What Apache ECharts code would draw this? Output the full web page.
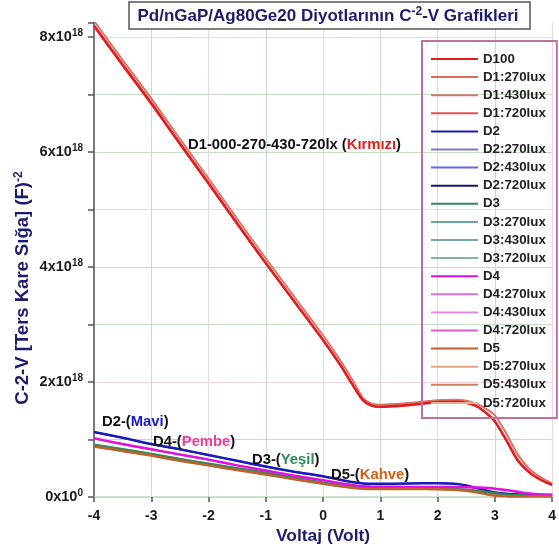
<!DOCTYPE html>
<html>
<head>
<meta charset="utf-8">
<script src="https://cdn.jsdelivr.net/npm/echarts@6/dist/echarts.min.js"></script>
<style>
html,body{margin:0;padding:0;background:#fff;}
#c{width:559px;height:551px;}
</style>
</head>
<body>
<div id="c"></div>
<script>
// Voltages (V)
const V = [-4, -3.5, -3, -2.5, -2, -1.5, -1, -0.5, 0, 0.3, 0.5, 0.7, 0.85, 1, 1.5, 2, 2.3, 2.5, 2.7, 2.9, 3.0, 3.2, 3.4, 3.6, 3.8, 4];
// C^-2 values in units of 1e18 F^-2
const D100   = [8.20, 7.52, 6.85, 6.15, 5.46, 4.76, 4.07, 3.40, 2.73, 2.30, 1.98, 1.68, 1.59, 1.57, 1.60, 1.65, 1.66, 1.64, 1.57, 1.42, 1.32, 0.99, 0.64, 0.43, 0.30, 0.21];
const D1_270 = [8.29, 7.61, 6.94, 6.24, 5.55, 4.85, 4.16, 3.49, 2.82, 2.39, 2.07, 1.73, 1.63, 1.61, 1.64, 1.69, 1.70, 1.68, 1.62, 1.51, 1.43, 1.12, 0.75, 0.50, 0.35, 0.24];
const D1_430 = [8.27, 7.59, 6.92, 6.22, 5.53, 4.83, 4.14, 3.47, 2.80, 2.37, 2.05, 1.72, 1.62, 1.60, 1.63, 1.68, 1.69, 1.67, 1.61, 1.49, 1.41, 1.09, 0.72, 0.48, 0.34, 0.23];
const D1_720 = [8.17, 7.49, 6.82, 6.12, 5.43, 4.73, 4.05, 3.38, 2.71, 2.28, 1.96, 1.67, 1.58, 1.56, 1.59, 1.64, 1.65, 1.63, 1.56, 1.40, 1.30, 0.97, 0.62, 0.42, 0.29, 0.20];

const D2     = [1.13, 1.03, 0.92, 0.83, 0.73, 0.63, 0.53, 0.44, 0.36, 0.30, 0.26, 0.235, 0.23, 0.23, 0.235, 0.24, 0.23, 0.20, 0.15, 0.10, 0.08, 0.055, 0.045, 0.04, 0.035, 0.035];
const D2_270 = [1.12, 1.02, 0.91, 0.82, 0.72, 0.62, 0.52, 0.43, 0.35, 0.29, 0.255, 0.23, 0.225, 0.225, 0.23, 0.235, 0.225, 0.195, 0.14, 0.095, 0.075, 0.05, 0.04, 0.035, 0.03, 0.03];
const D2_430 = [1.135, 1.035, 0.925, 0.835, 0.735, 0.635, 0.535, 0.445, 0.365, 0.305, 0.265, 0.24, 0.235, 0.235, 0.24, 0.245, 0.235, 0.205, 0.155, 0.105, 0.085, 0.06, 0.05, 0.045, 0.04, 0.04];
const D2_720 = [1.125, 1.025, 0.915, 0.825, 0.725, 0.625, 0.525, 0.435, 0.355, 0.295, 0.26, 0.235, 0.23, 0.23, 0.235, 0.24, 0.23, 0.20, 0.15, 0.10, 0.08, 0.055, 0.045, 0.04, 0.035, 0.035];

const D3     = [0.91, 0.83, 0.75, 0.66, 0.58, 0.50, 0.42, 0.33, 0.25, 0.20, 0.175, 0.16, 0.16, 0.155, 0.155, 0.15, 0.14, 0.125, 0.105, 0.08, 0.065, 0.04, 0.03, 0.025, 0.02, 0.02];
const D3_270 = [0.90, 0.82, 0.74, 0.65, 0.57, 0.49, 0.41, 0.325, 0.245, 0.195, 0.17, 0.155, 0.155, 0.15, 0.15, 0.145, 0.135, 0.12, 0.10, 0.075, 0.06, 0.035, 0.028, 0.022, 0.02, 0.02];
const D3_430 = [0.905, 0.825, 0.745, 0.655, 0.575, 0.495, 0.415, 0.33, 0.25, 0.20, 0.175, 0.16, 0.16, 0.155, 0.155, 0.15, 0.14, 0.125, 0.105, 0.08, 0.065, 0.04, 0.03, 0.025, 0.02, 0.02];
const D3_720 = [0.915, 0.835, 0.755, 0.665, 0.585, 0.505, 0.425, 0.335, 0.255, 0.205, 0.18, 0.165, 0.165, 0.16, 0.16, 0.155, 0.145, 0.13, 0.11, 0.085, 0.07, 0.045, 0.035, 0.03, 0.025, 0.02];

const D4     = [1.02, 0.92, 0.83, 0.74, 0.65, 0.55, 0.46, 0.37, 0.29, 0.24, 0.21, 0.185, 0.18, 0.18, 0.175, 0.175, 0.175, 0.17, 0.165, 0.155, 0.145, 0.12, 0.09, 0.06, 0.045, 0.04];
const D4_270 = [1.01, 0.91, 0.82, 0.73, 0.64, 0.545, 0.455, 0.365, 0.285, 0.235, 0.205, 0.18, 0.175, 0.175, 0.17, 0.17, 0.17, 0.165, 0.16, 0.15, 0.14, 0.115, 0.085, 0.055, 0.04, 0.035];
const D4_430 = [1.015, 0.915, 0.825, 0.735, 0.645, 0.55, 0.46, 0.37, 0.29, 0.24, 0.21, 0.185, 0.18, 0.18, 0.175, 0.175, 0.175, 0.17, 0.165, 0.155, 0.145, 0.12, 0.09, 0.06, 0.045, 0.04];
const D4_720 = [1.025, 0.925, 0.835, 0.745, 0.655, 0.555, 0.465, 0.375, 0.295, 0.245, 0.215, 0.19, 0.185, 0.185, 0.18, 0.18, 0.18, 0.175, 0.17, 0.16, 0.15, 0.125, 0.095, 0.065, 0.05, 0.04];

const D5     = [0.88, 0.80, 0.72, 0.63, 0.55, 0.47, 0.39, 0.31, 0.23, 0.185, 0.16, 0.145, 0.14, 0.14, 0.14, 0.135, 0.125, 0.11, 0.08, 0.04, 0.025, 0.015, 0.01, 0.01, 0.01, 0.01];
const D5_270 = [0.875, 0.795, 0.715, 0.625, 0.545, 0.465, 0.385, 0.305, 0.225, 0.18, 0.155, 0.14, 0.135, 0.135, 0.135, 0.13, 0.12, 0.105, 0.075, 0.035, 0.02, 0.012, 0.01, 0.01, 0.01, 0.01];
const D5_430 = [0.885, 0.805, 0.725, 0.635, 0.555, 0.475, 0.395, 0.315, 0.235, 0.19, 0.165, 0.15, 0.145, 0.145, 0.145, 0.14, 0.13, 0.115, 0.085, 0.045, 0.03, 0.018, 0.012, 0.01, 0.01, 0.01];
const D5_720 = [0.87, 0.79, 0.71, 0.62, 0.54, 0.46, 0.38, 0.30, 0.22, 0.178, 0.152, 0.138, 0.133, 0.133, 0.133, 0.128, 0.118, 0.10, 0.07, 0.032, 0.02, 0.012, 0.01, 0.01, 0.01, 0.01];

const seriesNames = ['D100','D1:270lux','D1:430lux','D1:720lux','D2','D2:270lux','D2:430lux','D2:720lux','D3','D3:270lux','D3:430lux','D3:720lux','D4','D4:270lux','D4:430lux','D4:720lux','D5','D5:270lux','D5:430lux','D5:720lux'];
const seriesData = [D100,D1_270,D1_430,D1_720,D2,D2_270,D2_430,D2_720,D3,D3_270,D3_430,D3_720,D4,D4_270,D4_430,D4_720,D5,D5_270,D5_430,D5_720];
const seriesColors = ['#e41a1c','#dc6a5a','#d2786a','#e25050',
                      '#1a1ab4','#7a7ac8','#5a6ae8','#14146e',
                      '#2e8b5a','#6aa890','#7aa8a8','#8ab4a0',
                      '#e010e0','#e070d0','#e888d8','#d860c8',
                      '#c0602e','#e0a888','#d08060','#e8b090'];
const seriesWidths = [2.5,1.2,1.2,1.2, 2.5,1,1,1, 2.5,1,1,1, 2.5,1,1,1, 2.5,1,1,1];
const isMain = [1,0,0,0, 1,0,0,0, 1,0,0,0, 1,0,0,0, 1,0,0,0];

const FONT = '"Liberation Sans", Arial, sans-serif';
const NAVY = '#1c1c6b';

const series = seriesNames.map((n, k) => ({
  name: n,
  type: 'line',
  data: V.map((v, i) => [v, seriesData[k][i]]),
  smooth: 0.3,
  symbol: 'none',
  showSymbol: false,
  lineStyle: { color: seriesColors[k], width: seriesWidths[k] },
  itemStyle: { color: seriesColors[k] },
  z: isMain[k] ? 3 : 2
}));

function annot(x, y, a, b, col) {
  return { type: 'text', x: x, y: y, z: 11,
    style: { text: '{k|' + a + '}{r|' + b + '}{k|)}', verticalAlign: 'middle',
      rich: { k: { font: 'bold 14.8px ' + FONT, fill: '#111' }, r: { font: 'bold 14.8px ' + FONT, fill: col } } } };
}

const chart = echarts.init(document.getElementById('c'), null, { renderer: 'canvas' });
chart.setOption({
  animation: false,
  backgroundColor: '#ffffff',
  grid: { left: 94, right: 4, top: 22.6, bottom: 54, containLabel: false },
  xAxis: {
    type: 'value', min: -4, max: 4, interval: 1,
    name: 'Voltaj (Volt)', nameLocation: 'middle', nameGap: 30,
    nameTextStyle: { fontFamily: FONT, fontWeight: 'bold', fontSize: 17.4, color: NAVY },
    axisLine: { show: true, onZero: false, lineStyle: { color: '#c2dcc2', width: 1.5 } },
    axisTick: { show: true, inside: false, length: 5, lineStyle: { color: '#555', width: 1.5 } },
    axisLabel: { margin: 12, fontFamily: FONT, fontWeight: 'bold', fontSize: 14, color: '#1a1a1a' },
    splitLine: { show: true, lineStyle: { color: ['#f2d4dc', '#c4dec4'], width: 1 } }
  },
  yAxis: {
    type: 'value', min: 0, max: 8.25, interval: 1,
    axisLine: { show: true, onZero: false, lineStyle: { color: '#7a7a7a', width: 2 } },
    axisTick: { show: true, inside: false, length: 6, lineStyle: { color: '#555', width: 1.5 } },
    axisLabel: {
      margin: 11,
      formatter: function (v) {
        if (Math.abs(v - Math.round(v)) > 1e-9 || Math.round(v) % 2 !== 0) return '';
        if (v === 0) return '{a|0x10}{b|0}';
        return '{a|' + Math.round(v) + 'x10}{b|18}';
      },
      rich: {
        a: { fontFamily: FONT, fontWeight: 'bold', fontSize: 14.5, color: '#1a1a1a', lineHeight: 17 },
        b: { fontFamily: FONT, fontWeight: 'bold', fontSize: 10, color: '#1a1a1a', lineHeight: 10, verticalAlign: 'top' }
      }
    },
    splitLine: { show: true, showMaxLine: false, lineStyle: { color: ['#c4dec4', '#c4dec4', '#f2d4dc'], width: 1 } }
  },
  legend: {
    orient: 'vertical',
    left: 422, top: 41,
    data: seriesNames,
    padding: [11, 11, 8, 8],
    itemWidth: 47, itemHeight: 14, itemGap: 4.1,
    borderColor: '#c0709a', borderWidth: 2,
    backgroundColor: 'transparent',
    itemStyle: { opacity: 0 },
    textStyle: { fontFamily: FONT, fontWeight: 'bold', fontSize: 13.3, color: '#222', lineHeight: 14 },
    selectedMode: false
  },
  graphic: [
    { type: 'rect', shape: { x: 129, y: 2, width: 401, height: 27 },
      style: { fill: '#fff', stroke: '#555', lineWidth: 1.5 }, z: 10 },
    { type: 'text', x: 328, y: 16, z: 11,
      style: {
        text: '{t|Pd/nGaP/Ag80Ge20 Diyotlarının C}{s|-2}{t|-V Grafikleri}',
        align: 'center', verticalAlign: 'middle',
        rich: {
          t: { font: 'bold 17px ' + FONT, fill: NAVY, lineHeight: 20 },
          s: { font: 'bold 12px ' + FONT, fill: NAVY, lineHeight: 12, verticalAlign: 'top' }
        }
      } },
    { type: 'text', x: 23, y: 288, z: 11, rotation: Math.PI / 2,
      style: {
        text: '{n|C-2-V [Ters Kare Sığa] (F)}{s|-2}',
        align: 'center', verticalAlign: 'middle',
        rich: {
          n: { font: 'bold 18.5px ' + FONT, fill: NAVY, lineHeight: 21 },
          s: { font: 'bold 12px ' + FONT, fill: NAVY, lineHeight: 12, verticalAlign: 'top' }
        }
      } },
    annot(188, 145, 'D1-000-270-430-720lx (', 'Kırmızı', '#e01c1c'),
    annot(102, 422, 'D2-(', 'Mavi', '#1a1acc'),
    annot(153, 442, 'D4-(', 'Pembe', '#e8409a'),
    annot(252, 460, 'D3-(', 'Yeşil', '#2e8b57'),
    annot(331, 475, 'D5-(', 'Kahve', '#d2601a')
  ],
  series: series
});
</script>
</body>
</html>
